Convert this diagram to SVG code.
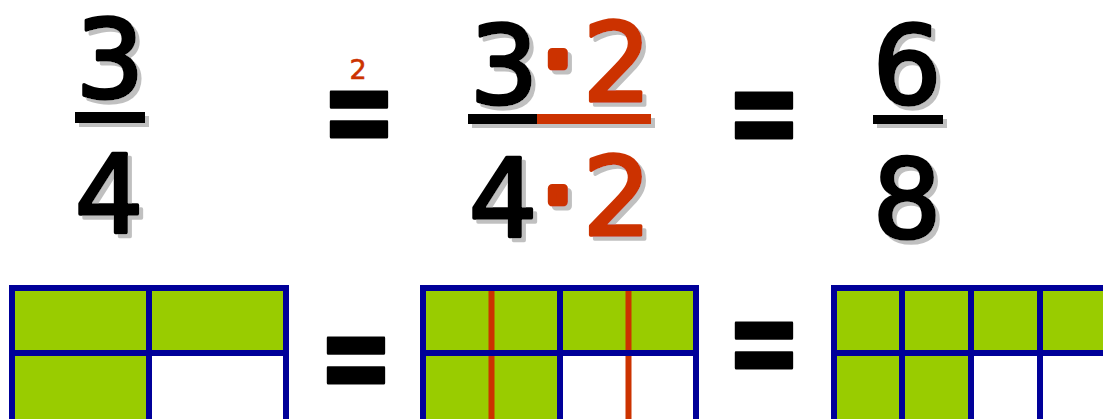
<svg xmlns="http://www.w3.org/2000/svg" width="1103" height="419" viewBox="0 0 1103 419">
<defs>
<filter id="sh" x="-30%" y="-30%" width="160%" height="160%">
<feOffset in="SourceAlpha" dx="4" dy="4" result="o"/>
<feFlood flood-color="#c0c0c0"/>
<feComposite in2="o" operator="in" result="s"/>
<feMerge><feMergeNode in="s"/><feMergeNode in="SourceGraphic"/></feMerge>
</filter>
<style>
.d{font-family:"Comic Sans MS","DejaVu Sans",sans-serif;font-size:108px;text-anchor:middle;stroke-width:3.5;stroke-linejoin:round;stroke-linecap:round;fill:#000;stroke:#000}
.r{fill:#cc3300;stroke:#cc3300}
.dot{stroke-width:9}
.eq{font-family:"DejaVu Sans",sans-serif;font-weight:bold;font-size:90px;text-anchor:middle;fill:#000;stroke:#000;stroke-width:2;stroke-linejoin:round}
.sm{font-family:"DejaVu Sans",sans-serif;font-size:27px;text-anchor:middle;fill:#cc3300;stroke:#cc3300;stroke-width:0.6}
.g{fill:#99cc00}
.w{fill:#fff}
.bl{stroke:#000099;stroke-width:6;fill:none}
.rl{stroke:#cc3300;stroke-width:6}
</style>
</defs>
<rect width="1103" height="419" fill="#fff"/>
<g id="connectors"/>
<g id="frac1" filter="url(#sh)">
<text class="d" x="110" y="97">3</text>
<rect x="75" y="112" width="70" height="11" fill="#000"/>
<text class="d" x="109" y="233">4</text>
</g>
<g id="eq1">
<text class="sm" x="358" y="79">2</text>
<text class="eq" transform="translate(359,156) scale(1,1.47)" x="0" y="0">=</text>
</g>
<g id="frac2" filter="url(#sh)">
<text class="d" x="504" y="103">3</text>
<text class="d r dot" x="558" y="97">·</text>
<text class="d r" x="617" y="101">2</text>
<rect x="468" y="114" width="69" height="10" fill="#000"/>
<rect x="537" y="114" width="114" height="10" fill="#cc3300"/>
<text class="d" x="503" y="237">4</text>
<text class="d r dot" x="558" y="233">·</text>
<text class="d r" x="617" y="235">2</text>
</g>
<g id="eq2">
<text class="eq" transform="translate(764,157) scale(1,1.47)" x="0" y="0">=</text>
</g>
<g id="frac3" filter="url(#sh)">
<text class="d" x="907" y="103">6</text>
<rect x="873" y="115" width="70" height="9" fill="#000"/>
<text class="d" x="907" y="237">8</text>
</g>
<g id="grid1">
<rect class="g" x="12" y="288" width="274" height="131"/>
<rect class="w" x="149" y="353" width="137" height="66"/>
<path class="bl" d="M12 288H286V422H12Z M149 288V422 M12 353H286"/>
</g>
<g id="eq3">
<text class="eq" transform="translate(356,402) scale(1,1.47)" x="0" y="0">=</text>
</g>
<g id="grid2">
<rect class="g" x="423" y="288" width="273" height="131"/>
<rect class="w" x="560" y="353" width="136" height="66"/>
<line class="rl" x1="491.5" y1="288" x2="491.5" y2="422"/>
<line class="rl" x1="628.5" y1="288" x2="628.5" y2="422"/>
<path class="bl" d="M423 288H696V422H423Z M560 288V422 M423 353H696"/>
</g>
<g id="eq4">
<text class="eq" transform="translate(764,386.5) scale(1,1.47)" x="0" y="0">=</text>
</g>
<g id="grid3">
<rect class="g" x="834" y="288" width="275" height="131"/>
<rect class="w" x="971" y="353" width="138" height="66"/>
<path class="bl" d="M834 288H1109V422H834Z M902 288V422 M971 288V422 M1040 288V422 M834 353H1109"/>
</g>
</svg>
